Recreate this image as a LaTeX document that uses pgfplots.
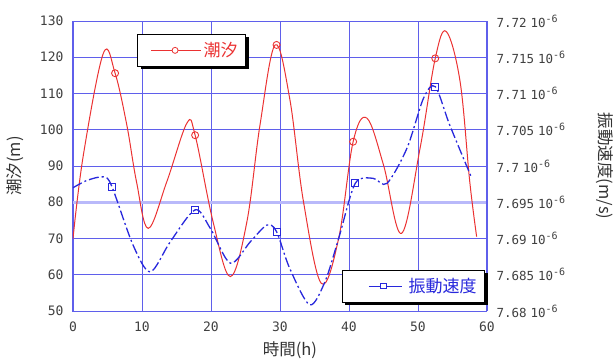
\documentclass[border=0pt]{standalone}
\usepackage{fontspec}
\setmainfont{Noto Sans CJK JP}
\newfontfamily\tickfont{DejaVu Sans Mono}
\usepackage{pgfplots}
\pgfplotsset{compat=1.18}
\usetikzlibrary{shadows}
\makeatletter
\tikzset{no preactions/.code={\let\tikz@preactions\pgfutil@empty}}
\makeatother
\definecolor{tred}{RGB}{235,50,50}
\definecolor{tblue}{RGB}{40,40,220}
\definecolor{gridblue}{RGB}{95,95,235}
\definecolor{lightband}{RGB}{185,185,250}
\newcommand{\sx}[1]{\hspace{4pt}10\raisebox{5pt}{\fontsize{10}{10}\selectfont -6}}

\begin{document}
\begin{tikzpicture}
\path[use as bounding box] (-73pt,-48pt) rectangle (540pt,311pt);
\begin{axis}[
  at={(0,0)}, anchor=south west, scale only axis, width=414pt, height=290pt,
  xmin=0, xmax=60, ymin=50, ymax=130,
  xtick={0,10,...,60}, ytick={50,60,...,130},
  grid=major, major grid style={gridblue, line width=0.7pt},
  axis line style={gridblue, line width=1pt},
  tick style={draw=none},
  tick label style={font=\tickfont\fontsize{13}{13}\selectfont, text=black!75},
  /pgf/number format/assume math mode=true,
  xticklabel style={yshift=-7pt},
  yticklabel style={xshift=-6pt},
  xlabel={時間(h)}, ylabel={潮汐(m)},
  label style={font=\fontsize{16.5}{16.5}\selectfont, text=black!80},
  xlabel style={at={(rel axis cs:0.524,-0.134)}, anchor=center},
  ylabel style={at={(rel axis cs:-0.14,0.5)}, anchor=center},
  legend style={at={(0.155,0.955)}, anchor=north west, draw=black, line width=0.8pt,
    fill=white, inner xsep=6pt, inner ysep=6pt,
    drop shadow={shadow xshift=3pt, shadow yshift=-3pt, fill=black, opacity=1},
    font=\fontsize{17}{17}\selectfont},
]
\addplot[lightband, line width=2.5pt, forget plot] coordinates {(0,80) (60,80)};
\addplot[tred, line width=1pt, smooth, tension=0.6,
  legend image code/.code={\path (0pt,0pt) (57pt,0pt);
    \draw[no preactions, solid, tred, line width=0.8pt] (7pt,0pt) -- (57pt,0pt);
    \draw[no preactions, solid, tred, line width=0.8pt, fill=white] (31pt,0pt) circle (3pt);}]
 coordinates {
 (0,70) (1.5,93) (4.4,121.1) (6.1,115.6) (7.8,101.3) (9.2,85.7) (10.9,72.8)
 (13.6,85.7) (16.5,101.8) (17.7,98.5) (20.3,74.6) (22.8,59.5) (25.2,74.6)
 (27.1,101.3) (29.3,123.4) (31.4,108.7) (33.4,80.2) (36,57.6) (38.5,70)
 (40.6,96.7) (42.6,103.2) (45,90.3) (47.6,71.4) (50.3,94.9) (52.5,119.7)
 (54.1,127.1) (56.1,113.3) (57.5,85.7) (58.5,70.5)
 };
\addlegendentry{\textcolor{tred}{潮汐}\hspace{3pt}}
\addplot[tred, only marks, mark=o, mark size=3.5pt, mark options={fill=white, line width=0.9pt}, forget plot]
 coordinates {(6.1,115.6) (17.7,98.5) (29.5,123.4) (40.6,96.7) (52.5,119.7)};
\end{axis}
\begin{axis}[
  at={(0,0)}, anchor=south west, scale only axis, width=414pt, height=290pt,
  xmin=0, xmax=60, ymin=7.68, ymax=7.72,
  axis y line*=right, axis x line=none,
  axis line style={gridblue, line width=1pt},
  tick style={draw=none},
  /pgf/number format/assume math mode=true,
  ytick={7.68,7.685,7.69,7.695,7.7,7.705,7.71,7.715,7.72},
  yticklabels={7.68\sx{},7.685\sx{},7.69\sx{},7.695\sx{},7.7\sx{},7.705\sx{},7.71\sx{},7.715\sx{},7.72\sx{}},
  yticklabel style={font=\tickfont\fontsize{12.5}{12.5}\selectfont, text=black!75, xshift=6pt},
  ylabel={振動速度(m/s)},
  ylabel style={at={(rel axis cs:1.285,0.5)}, anchor=center, rotate=180, font=\fontsize{16.5}{16.5}\selectfont, text=black!80},
  legend style={at={(0.995,0.03)}, anchor=south east, draw=black, line width=0.8pt,
    fill=white, inner xsep=6pt, inner ysep=6pt,
    drop shadow={shadow xshift=3pt, shadow yshift=-3pt, fill=black, opacity=1},
    font=\fontsize{17}{17}\selectfont},
]
\addplot[tblue, line width=1.3pt, smooth, tension=0.5, dash pattern=on 10pt off 3pt on 2pt off 3pt,
  legend image code/.code={\pgfsetdash{}{0pt}\path (0pt,0pt) (57pt,0pt);
    \draw[no preactions, solid, tblue, line width=0.8pt] (20pt,0pt) -- (53pt,0pt);
    \draw[no preactions, solid, tblue, line width=0.8pt, fill=white] (32pt,-2.8pt) rectangle (38pt,2.8pt);}]
 coordinates {
 (0,7.6970) (2,7.6980) (4.4,7.6985) (5.6,7.69725) (8.7,7.6891) (11.2,7.6854)
 (14.1,7.68955) (17.7,7.69395) (19.9,7.6914) (22.8,7.6866) (25.7,7.68955)
 (28.1,7.69185) (29.5,7.69095) (31.4,7.6859) (34.3,7.68085) (36.5,7.6840)
 (38.5,7.6900) (40.9,7.6976) (43.5,7.6983) (45.5,7.6976) (48.4,7.70245)
 (50.8,7.70935) (52.5,7.71095) (54.6,7.70565) (57.8,7.6983)
 };
\addlegendentry{\textcolor{tblue}{振動速度}\hspace{8pt}}
\addplot[tblue, only marks, mark=square, mark size=3.5pt, mark options={fill=white, line width=0.9pt, solid}, forget plot]
 coordinates {(5.6,7.69715) (17.7,7.69395) (29.5,7.69095) (40.9,7.6976) (52.5,7.71095)};
\end{axis}
\end{tikzpicture}
\end{document}
